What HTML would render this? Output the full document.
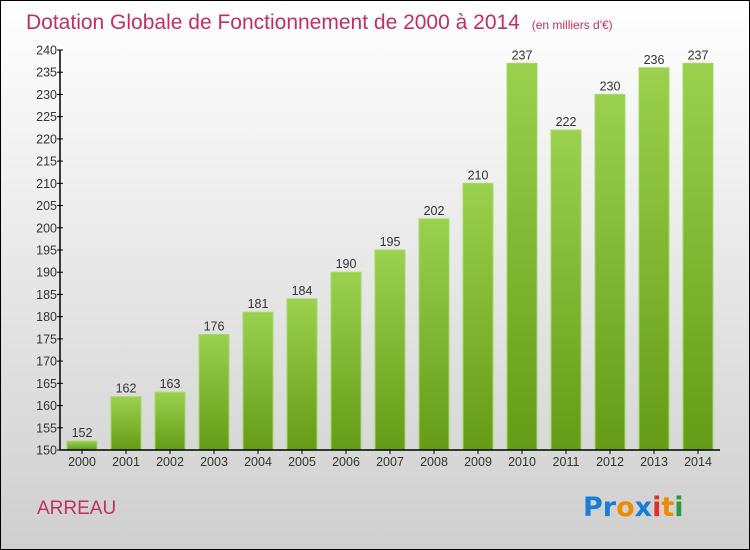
<!DOCTYPE html>
<html><head><meta charset="utf-8"><style>
body{margin:0}
svg{display:block;font-family:"Liberation Sans",sans-serif}
</style></head><body>
<svg width="750" height="550" viewBox="0 0 750 550">
<defs>
<linearGradient id="bg" x1="0" y1="0" x2="0" y2="1"><stop offset="0" stop-color="#ffffff"/><stop offset="1" stop-color="#cfcfcf"/></linearGradient>
<linearGradient id="bar" x1="0" y1="0" x2="0" y2="1"><stop offset="0" stop-color="#9ad14f"/><stop offset="1" stop-color="#649c17"/></linearGradient>
</defs>
<rect x="0.5" y="0.5" width="749" height="549" fill="url(#bg)" stroke="#000"/>
<text x="26" y="29" font-size="21" fill="#c2305f">Dotation Globale de Fonctionnement de 2000 à 2014 <tspan font-size="12" dx="6">(en milliers d'€)</tspan></text>
<g id="yaxis"></g>
<g id="bars"></g>
<g id="xaxis"></g>
<text x="37" y="514" font-size="19" fill="#c2305f">ARREAU</text>
<g font-size="27" font-weight="bold" font-family="'DejaVu Sans',sans-serif">
<text x="583" y="516"><tspan fill="#1a7fd4">Pr</tspan><tspan fill="#f08a00">o</tspan><tspan fill="#1a7fd4">x</tspan><tspan fill="#e03020">i</tspan><tspan fill="#f08a00">t</tspan><tspan fill="#2a9a40">i</tspan></text>
</g>
</svg>
<script>
const years=["2000","2001","2002","2003","2004","2005","2006","2007","2008","2009","2010","2011","2012","2013","2014"];
const values=[152,162,163,176,181,184,190,195,202,210,237,222,230,236,237];
const yTicks=[150,155,160,165,170,175,180,185,190,195,200,205,210,215,220,225,230,235,240];
const NS="http://www.w3.org/2000/svg";
const x0=60,band=44,yMin=150,yMax=240,yTop=50,yBot=450;
const y=v=>yBot-(v-yMin)/(yMax-yMin)*(yBot-yTop);
const xc=i=>x0+band*i+band/2;
function mk(t,a,p){const e=document.createElementNS(NS,t);for(const k in a)e.setAttribute(k,a[k]);p.appendChild(e);return e;}
const ya=document.getElementById('yaxis'),ba=document.getElementById('bars'),xa=document.getElementById('xaxis');
mk('line',{x1:x0,y1:yTop,x2:x0,y2:yBot,stroke:'#000','stroke-width':1.5},ya);
yTicks.forEach(v=>{
 const l=mk('line',{x1:x0-3,y1:y(v),x2:x0+3,y2:y(v),stroke:'#000'},ya);
 
 
 const t=mk('text',{x:x0-3,y:y(v)+4.5,'text-anchor':'end','font-size':12.5,fill:'#333'},ya);
 t.textContent=v;
 
 
});
values.forEach((v,i)=>{
 const r=mk('rect',{x:xc(i)-15,y:y(v),width:30,height:yBot-y(v),fill:'url(#bar)',stroke:'#a6d866','stroke-width':1},ba);
 
 
 const t=mk('text',{x:xc(i),y:y(v)-4,'text-anchor':'middle','font-size':12.5,fill:'#333'},ba);
 t.textContent=v;
 
 
});
mk('line',{x1:x0,y1:yBot,x2:x0+band*years.length,y2:yBot,stroke:'#000','stroke-width':1.5},xa);
years.forEach((yr,i)=>{
 mk('line',{x1:xc(i),y1:yBot,x2:xc(i),y2:yBot+4,stroke:'#000'},xa);
 const t=mk('text',{x:xc(i),y:yBot+16,'text-anchor':'middle','font-size':12.5,fill:'#333'},xa);
 t.textContent=yr;
 
 
});
</script>
</body></html>
